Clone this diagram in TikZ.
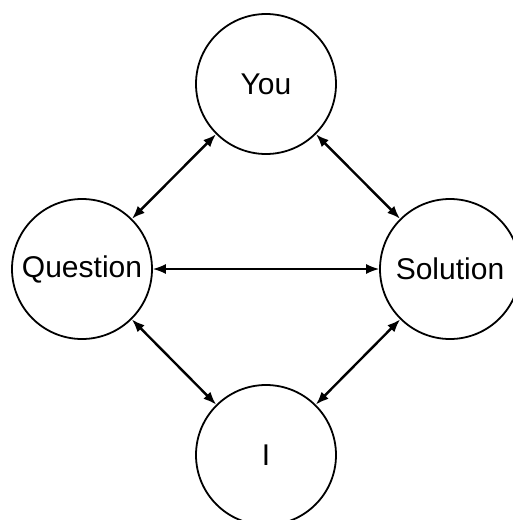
\documentclass[tikz,border=0pt]{standalone}
\usepackage{fontspec}
\setmainfont{Liberation Sans}
\usetikzlibrary{arrows.meta}

\begin{document}
\begin{tikzpicture}[x=1pt, y=-1pt,
                    party/.style={draw, circle, line width=1.8pt, minimum size=140pt, inner sep=0pt,
                                  font=\fontsize{30}{35}\selectfont},
                    link/.style={{Latex[length=13pt,width=10pt]}-{Latex[length=13pt,width=10pt]}, line width=2.4pt}]

\useasboundingbox (0,0) rectangle (512,520);

\node[party] (you)      at (266,84)  {You};
\node[party] (question) at (82,269)  {Question};
\node[party] (solution) at (450,269) {Solution};
\node[party] (I)        at (266,455) {I};

\draw[link] (you) -- (question);
\draw[link] (you) -- (solution);
\draw[link] (question) -- (I);
\draw[link] (solution) -- (I);
\draw[link, line width=1.6pt] (question) -- (solution);
\end{tikzpicture}
\end{document}
